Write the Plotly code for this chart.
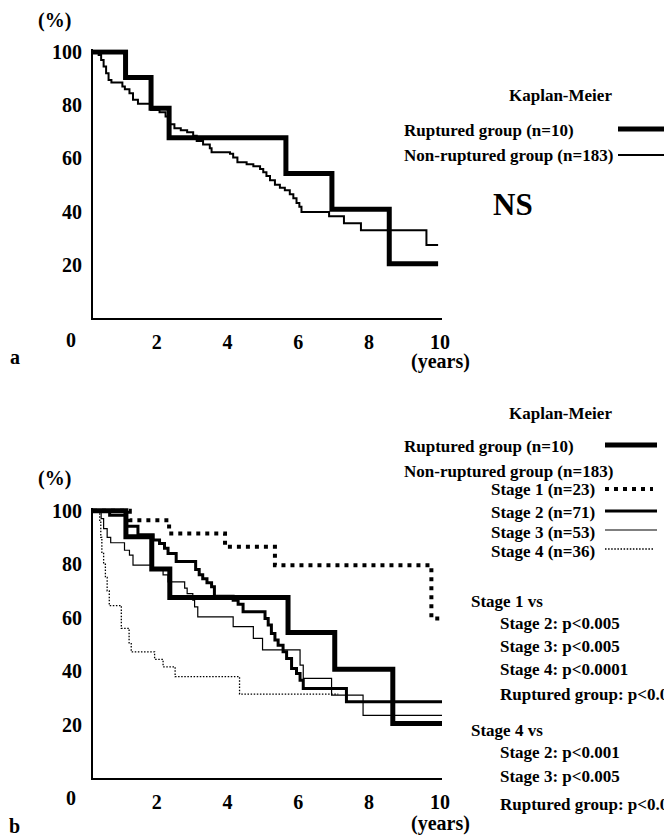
import plotly.graph_objects as go

# The page body has an 8px margin, so the figure is sized to fill the rest
OFF = 8
W, H = 672 - OFF, 835 - OFF
FONT = "Liberation Serif"

# ---------------- data ----------------
START = 0.2
# Panel a
rupt_a_t = [1.12, 1.84, 2.35, 5.65, 6.95, 8.57]
rupt_a_s = [90.4, 78.8, 67.8, 54.3, 40.9, 20.4]
rupt_a_end = 9.95

nonrupt_a_t = [0.36, 0.43, 0.50, 0.57, 0.64, 0.72, 1.03, 1.10, 1.23, 1.33, 1.47, 1.84,
               2.08, 2.25, 2.36, 2.50, 2.68, 2.86, 3.03, 3.13, 3.31, 3.50, 3.55, 4.07,
               4.16, 4.28, 4.54, 4.73, 4.92, 5.01, 5.10, 5.20, 5.34, 5.48, 5.62, 5.76,
               5.86, 5.95, 6.03, 6.09, 6.87, 7.29, 7.77, 9.62]
nonrupt_a_s = [98.9, 97.0, 94.5, 92.0, 89.5, 88.5, 87.0, 86.0, 84.5, 82.0, 80.5, 78.2,
               77.3, 75.7, 72.8, 71.3, 70.6, 69.8, 68.5, 66.5, 65.2, 63.8, 62.3, 61.7,
               60.3, 58.5, 57.8, 57.0, 56.0, 54.8, 53.4, 51.8, 50.1, 49.0, 48.0, 46.5,
               45.0, 43.2, 41.8, 39.8, 38.2, 35.6, 33.0, 27.4]
nonrupt_a_end = 9.95

# Panel b
rupt_b_t = [1.13, 1.86, 2.37, 5.71, 7.03, 8.67]
rupt_b_s = [90.2, 78.2, 67.5, 54.4, 40.7, 20.4]
rupt_b_end = 10.08

stage1_t = [1.24, 2.35, 3.93, 5.34, 9.76]
stage1_s = [96.4, 91.5, 86.5, 79.6, 59.7]
stage1_end = 10.08

stage2_t = [0.67, 1.12, 1.47, 1.90, 2.08, 2.22, 2.32, 2.55, 3.10, 3.20, 3.30, 3.42,
            3.55, 3.63, 4.16, 4.30, 4.44, 5.06, 5.15, 5.24, 5.34, 5.43, 5.57, 5.67,
            5.81, 5.95, 6.05, 6.14, 7.36]
stage2_s = [98.3, 94.2, 91.0, 89.0, 87.7, 85.9, 84.0, 81.0, 78.0, 76.0, 74.5, 73.0,
            71.5, 68.0, 66.5, 65.0, 62.2, 59.7, 57.2, 54.1, 51.6, 49.7, 47.2, 44.7,
            41.0, 39.1, 36.6, 33.5, 28.5]
stage2_end = 10.08

stage3_t = [0.43, 0.50, 0.60, 0.70, 1.09, 1.23, 1.33, 1.85, 2.18, 2.32, 2.79, 2.86,
            3.02, 3.07, 3.16, 4.16, 4.73, 4.99, 6.05, 6.14, 6.94, 7.83]
stage3_s = [97.0, 93.3, 90.0, 88.0, 85.2, 83.4, 79.6, 78.5, 76.0, 73.4, 71.0, 69.0,
            66.5, 64.0, 60.3, 56.6, 52.2, 47.9, 42.2, 37.3, 31.0, 23.4]
stage3_end = 10.08

stage4_t = [0.39, 0.42, 0.45, 0.50, 0.55, 0.60, 0.66, 1.00, 1.22, 1.28, 1.94, 2.18,
            2.52, 4.34]
stage4_s = [96.0, 90.0, 84.0, 80.0, 75.0, 70.0, 64.5, 56.0, 50.3, 47.2, 44.4, 41.6,
            37.9, 31.4]
stage4_end = 7.13

x_ticks = [2, 4, 6, 8, 10]
y_ticks = [20, 40, 60, 80, 100]

# ---------------- helpers (window pixel -> paper fraction) ----------------
def px(x):
    return (x - OFF) / W

def py(y):
    return 1 - (y - OFF) / H

def km(t, s, end):
    xs = [START] + list(t) + [end]
    ys = [100] + list(s) + [s[-1]]
    return xs, ys

fig = go.Figure()

def add_curve(t, s, end, width, dash, xa, ya):
    xs, ys = km(t, s, end)
    fig.add_trace(go.Scatter(x=xs, y=ys, mode="lines", line_shape="hv",
                             line=dict(color="black", width=width, dash=dash),
                             xaxis=xa, yaxis=ya, showlegend=False, hoverinfo="skip"))

# panel a
add_curve(nonrupt_a_t, nonrupt_a_s, nonrupt_a_end, 2, "solid", "x", "y")
add_curve(rupt_a_t, rupt_a_s, rupt_a_end, 5, "solid", "x", "y")
# panel b
add_curve(stage4_t, stage4_s, stage4_end, 1.3, "1.5px,1.6px", "x2", "y2")
add_curve(stage3_t, stage3_s, stage3_end, 1.2, "solid", "x2", "y2")
add_curve(stage2_t, stage2_s, stage2_end, 3, "solid", "x2", "y2")
add_curve(stage1_t, stage1_s, stage1_end, 4, "4px,5px", "x2", "y2")
add_curve(rupt_b_t, rupt_b_s, rupt_b_end, 5, "solid", "x2", "y2")

tickfont = dict(family=FONT, size=20, color="black", weight="bold")
xdom = [px(93), px(442)]

def xax(anchor):
    return dict(domain=xdom, anchor=anchor, range=[START, 10.06], tickvals=x_ticks,
                showline=True, linewidth=2, linecolor="black", showgrid=False,
                zeroline=False, ticks="", tickfont=tickfont, ticklabelstandoff=5,
                automargin=False)

def yax(anchor, dom):
    return dict(domain=dom, anchor=anchor, range=[0, 101], tickvals=y_ticks,
                showline=True, linewidth=2, linecolor="black", showgrid=False,
                zeroline=False, ticks="", tickfont=tickfont, ticklabelstandoff=5,
                automargin=False)

fig.update_layout(
    width=W, height=H, margin=dict(l=0, r=0, t=0, b=0, autoexpand=False),
    paper_bgcolor="white", plot_bgcolor="white", showlegend=False,
    xaxis=xax("y"), yaxis=yax("x", [py(318), py(49.3)]),
    xaxis2=xax("y2"), yaxis2=yax("x2", [py(778), py(508)]),
)

# ---------------- text ----------------
def txt(text, x, y, size=17, anchor="left"):
    fig.add_annotation(text=text, x=px(x), y=py(y), xref="paper", yref="paper",
                       xanchor=anchor, yanchor="middle", showarrow=False,
                       font=dict(family=FONT, size=size, color="black", weight="bold"))

# panel a
txt("(%)", 54, 20, 20, "center")
txt("0", 71, 340, 20, "center")
txt("(years)", 440, 362, 20, "center")
txt("a", 15, 357, 20, "center")
txt("Kaplan-Meier", 560, 96, 17, "center")
txt("Ruptured group (n=10)", 402, 130)
txt("Non-ruptured group (n=183)", 402, 155)
txt("NS", 513, 205, 31, "center")

# panel b
txt("(%)", 54, 478, 20, "center")
txt("0", 71, 798, 20, "center")
txt("(years)", 440, 823, 20, "center")
txt("b", 15, 826, 20, "center")
txt("Kaplan-Meier", 560, 413, 17, "center")
txt("Ruptured group (n=10)", 402, 446)
txt("Non-ruptured group (n=183)", 402, 471)
txt("Stage 1 (n=23)", 489, 490)
txt("Stage 2 (n=71)", 489, 512)
txt("Stage 3 (n=53)", 489, 532)
txt("Stage 4 (n=36)", 489, 551)
txt("Stage 1 vs", 469, 601)
txt("Stage 2: p<0.005", 498, 623)
txt("Stage 3: p<0.005", 498, 646)
txt("Stage 4: p<0.0001", 498, 669)
txt("Ruptured group: p<0.05", 498, 694)
txt("Stage 4 vs", 469, 730)
txt("Stage 2: p<0.001", 498, 752)
txt("Stage 3: p<0.005", 498, 776)
txt("Ruptured group: p<0.05", 498, 804)

# legend sample lines
def seg(x0, x1, y, width, dash="solid"):
    fig.add_shape(type="line", xref="paper", yref="paper", x0=px(x0), x1=px(x1),
                  y0=py(y), y1=py(y), line=dict(color="black", width=width, dash=dash))

seg(618, 672, 129, 5)
seg(618, 672, 155, 2)
seg(605, 657, 445, 5)
seg(605, 653, 489, 4, "4px,5px")
seg(605, 657, 511, 3)
seg(605, 657, 530, 1.2)
seg(605, 653, 549, 1.3, "1.5px,1.6px")

fig.write_html("out.html")
